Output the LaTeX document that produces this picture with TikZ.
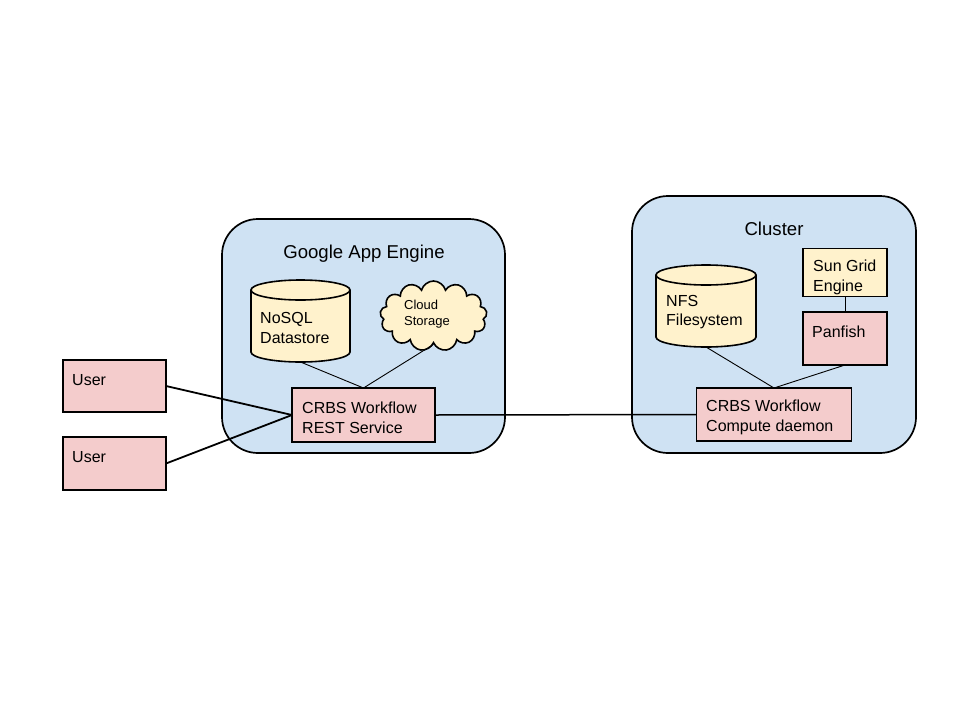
\documentclass[tikz,border=0pt]{standalone}
\usepackage{fontspec}
\setmainfont{Liberation Sans}
\usetikzlibrary{shapes.symbols}
\definecolor{bluefill}{HTML}{CFE2F3}
\definecolor{pinkfill}{HTML}{F4CCCC}
\definecolor{yellowfill}{HTML}{FFF2CC}
\begin{document}
\begin{tikzpicture}[x=1pt,y=-1pt,
  container/.style={draw=black, line width=1.7pt, fill=bluefill, rounded corners=36pt, inner sep=0pt, outer sep=0pt},
  pinkbox/.style={draw=black, line width=1.6pt, fill=pinkfill, inner sep=0pt, outer sep=0pt},
  yellowbox/.style={draw=black, line width=1.6pt, fill=yellowfill, inner sep=0pt, outer sep=0pt},
  cyl/.style={draw=black, line width=1.6pt, fill=yellowfill},
  anchorbox/.style={inner sep=0pt, outer sep=0pt},
  txt/.style={inner sep=0pt, anchor=west, align=left, font=\fontsize{16}{19.5}\selectfont},
  title/.style={inner sep=0pt, font=\fontsize{18.6}{22}\selectfont},
  smalltxt/.style={inner sep=0pt, anchor=west, align=left, font=\fontsize{13}{16}\selectfont},
  thin/.style={draw=black, line width=0.9pt},
  thick/.style={draw=black, line width=1.8pt}]
\useasboundingbox (0,0) rectangle (960,720);
\fill[white] (0,0) rectangle (960,720);

% containers
\node[container, minimum width=283pt, minimum height=234pt] (gae) at (363.5,336) {};
\node[title] (gaetitle) at (364,254) {Google App Engine};
\node[container, minimum width=284pt, minimum height=257pt] (cluster) at (774,324.5) {};
\node[title] (clustertitle) at (774,229) {Cluster};

% NoSQL cylinder
\draw[cyl] (251,290) -- (251,352) arc[start angle=180, end angle=360, x radius=49.5pt, y radius=10pt]
  -- (350,290) arc[start angle=0, end angle=180, x radius=49.5pt, y radius=10pt] -- cycle;
\draw[line width=1.6pt] (251,290) arc[start angle=180, end angle=360, x radius=49.5pt, y radius=10pt];
\node[anchorbox, minimum width=99pt, minimum height=82pt] (nosql) at (300.5,321) {};
\node[txt] (nosqltxt) at (260,328) {NoSQL\\Datastore};

% Cloud
\node[cloud, cloud puffs=13, aspect=1.6, draw=black, line width=1.6pt, fill=yellowfill,
  minimum width=107pt, minimum height=70pt, inner sep=0pt] (cloud) at (433.5,316) {};
\node[smalltxt] (cloudtxt) at (404,314) {Cloud\\Storage};

% REST service
\node[pinkbox, minimum width=143pt, minimum height=54pt] (rest) at (363.5,415) {};
\node[txt] (resttxt) at (302,418) {CRBS Workflow\\REST Service};

% Users
\node[pinkbox, minimum width=103pt, minimum height=52pt] (u1) at (114.5,386) {};
\node[txt] (u1txt) at (72,380) {User};
\node[pinkbox, minimum width=103pt, minimum height=53pt] (u2) at (114.5,463.5) {};
\node[txt] (u2txt) at (72,457) {User};

% NFS cylinder
\draw[cyl] (656,275) -- (656,337) arc[start angle=180, end angle=360, x radius=50pt, y radius=10pt]
  -- (756,275) arc[start angle=0, end angle=180, x radius=50pt, y radius=10pt] -- cycle;
\draw[line width=1.6pt] (656,275) arc[start angle=180, end angle=360, x radius=50pt, y radius=10pt];
\node[anchorbox, minimum width=100pt, minimum height=82pt] (nfs) at (706,306) {};
\node[txt] (nfstxt) at (666,312) {NFS\\Filesystem};

% Sun Grid Engine & Panfish
\node[yellowbox, minimum width=84pt, minimum height=48pt] (sge) at (845,272.5) {};
\node[txt] (sgetxt) at (813,277.5) {Sun Grid\\Engine};
\node[pinkbox, minimum width=84pt, minimum height=53pt] (panfish) at (845,338.5) {};
\node[txt] (panfishtxt) at (812,332) {Panfish};

% Compute daemon
\node[pinkbox, minimum width=155pt, minimum height=53pt] (compute) at (774,414.5) {};
\node[txt] (computetxt) at (706,417.5) {CRBS Workflow\\Compute daemon};

% connectors
\draw[thick] (u1.east) -- (rest.west);
\draw[thick] (u2.east) -- (rest.west);
\draw[thin] (nosql.south) -- (rest.north);
\draw[thin] (cloud.south) -- (rest.north);
\draw[line width=1.5pt] (rest.east) -- (compute.west);
\draw[thin] (nfs.south) -- (compute.north);
\draw[thin] (panfish.south) -- (compute.north);
\draw[thin] (sge.south) -- (panfish.north);
\end{tikzpicture}
\end{document}
